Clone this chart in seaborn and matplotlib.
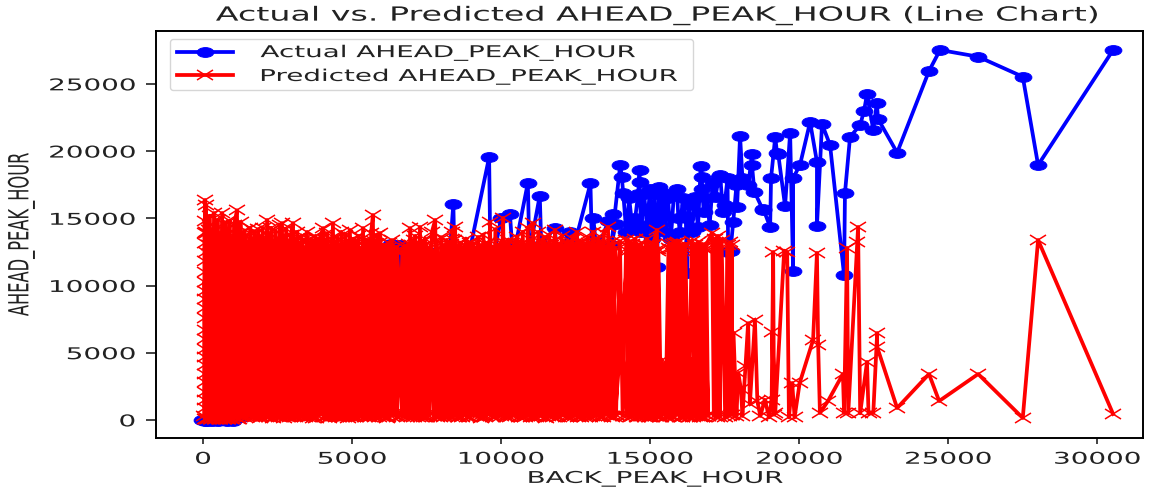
import matplotlib
matplotlib.use('Agg')
import matplotlib.pyplot as plt
import seaborn as sns
from matplotlib.markers import MarkerStyle
from matplotlib.patheffects import AbstractPathEffect
from matplotlib.transforms import Affine2D

x_ticks = [0, 5000, 10000, 15000, 20000, 25000, 30000]
y_ticks = [0, 5000, 10000, 15000, 20000, 25000]

x_actual = [-20, 60, 150, 300, 500, 800, 1000, 1300, 1800, 2500, 3200, 4000, 4800, 5300, 5400, 5800,
            6300, 6350, 6600, 6620, 7000, 7550, 7600, 7800, 7850, 8200, 8400, 8450, 8800, 9600, 9650,
            10000, 10300, 10400, 10900, 10950, 11300, 11350, 11800, 11900, 12300, 12400, 13000, 13050,
            13100, 13200, 13600, 13750, 13850,
            13700, 14000, 14050, 14100, 14200, 14300, 14400, 14500, 14600, 14650, 14650, 14700, 14800,
            14900, 15000, 15050, 15150, 15230, 15300, 15350, 15450, 15500, 15600, 15700, 15800, 15900,
            15950, 16000, 16100, 16200, 16240, 16300, 16400, 16500, 16610, 16700, 16740, 16750, 16800,
            16900, 17000, 17100, 17200, 17300, 17350, 17450, 17500, 17600, 17620, 17700, 17790, 17900,
            17920, 18020, 18100, 18300, 18420, 18420, 18500, 18790, 18800, 19030, 19060, 19200,
            19260, 19300, 19530, 19700, 19800, 19800, 20030, 20370, 20600, 20600, 20770, 21040, 21510,
            21540, 21710, 22050, 22180, 22280, 22490, 22610, 22650, 23290, 24360, 24730, 26010, 27506,
            28020, 30537]
y_actual = [0, -60, -100, -60, -40, -80, -90, 200, 900, 1800, 3000, 2500, 5000, 4400, 9900, 6000,
            13100, 6600, 13000, 6000, 6000, 12500, 7700, 12000, 8800, 10000, 16100, 10500, 11000, 19550, 11000,
            15000, 15300, 12000, 17650, 12500, 16700, 13000, 14300, 12000, 14000, 12500, 17600, 13000,
            15000, 12500, 14800, 15300, 14600,
            13000, 19000, 18100, 16900, 14000, 16500, 14500, 15000, 16800, 18600, 17700, 14000, 16800,
            14500, 17200, 13500, 16800, 11390, 17300, 14500, 16900, 14000, 16500, 13500, 16800, 17200,
            15000, 14000, 16500, 15000, 10930, 16000, 14000, 16600, 14360, 18900, 18100, 17200, 15500,
            16500, 14500, 17600, 16600, 18100, 18230, 15500, 16000, 18000, 12500, 12600, 14730, 17500,
            15850, 21130, 18000, 17500, 19790, 18970, 17000, 15620, 15700, 14360, 18000, 21060,
            19870, 19800, 15920, 21350, 11090, 18000, 18970, 22170, 19200, 14430, 22020, 20460, 10790,
            16890, 21060, 21950, 23000, 24250, 21580, 23580, 22400, 19890, 25970, 27530, 27030, 25540,
            18970, 27530]

x_pred_mid = [110, 190, 260, 340, 410, 480, 560, 620, 690, 760,
              830, 920, 1000, 1080, 1160, 1230, 1310, 1380, 1460, 1540,
              1610, 1680, 1760, 1830, 1900, 1980, 2060, 2130, 2200, 2280,
              2350, 2420, 2490, 2560, 2630, 2700, 2770, 2850, 2930, 3000,
              3080, 3150, 3220, 3290, 3360, 3440, 3520, 3590, 3660, 3730,
              3800, 3880, 3980, 4060, 4130, 4200, 4300, 4390, 4460, 4530,
              4600, 4670, 4740, 4810, 4880, 4960, 5030, 5100, 5170, 5240,
              5300, 5410, 5470, 5540, 5600, 5680, 5750, 5820, 5900, 5970,
              6050, 6130, 6210, 6290, 6380, 6510, 6680, 6810, 6900, 7000,
              7080, 7160, 7240, 7320, 7410, 7490, 7590, 7720, 7840, 7940,
              8030, 8120, 8220, 8310, 8410, 8500, 8600, 8690, 8780, 8870,
              8960, 9050, 9170, 9280, 9370, 9460, 9570, 9680, 9770, 9860,
              9990, 10120, 10210, 10300, 10390, 10490, 10590, 10690, 10770, 10860,
              10990, 11120, 11210, 11300, 11390, 11480, 11570, 11670, 11760, 11880,
              12000, 12090, 12180, 12270, 12360, 12480, 12590, 12680, 12770, 12860,
              12950, 13040, 13130, 13220, 13310, 13410, 13520, 13630, 13720, 13830,
              14230, 14290, 14350, 14400, 14460, 14530, 14590, 14640, 14700, 14760,
              14820, 14880, 14940, 15010, 15070, 15130, 15190, 15260, 15320, 15390,
              15450, 15510, 15570, 15640, 15700, 15760, 15820, 15890, 15950, 16010,
              16070, 16140, 16200, 16270, 16330, 16390, 16450, 16520, 16580, 16640,
              16700, 16760, 16820, 16880, 16950]
y_pred_mid = [60, 13000, 40, 13200, 70, 12800, 50, 13400, 60, 13000,
              80, 13100, 60, 12900, 70, 13300, 300, 13000, 240, 13200,
              380, 12800, 200, 13300, 320, 13000, 260, 13100, 400, 12900,
              180, 13200, 300, 13000, 250, 13100, 420, 12700, 200, 13100,
              330, 12900, 260, 13000, 390, 12800, 220, 13100, 300, 12900,
              170, 13000, 410, 12800, 260, 13000, 320, 13100, 200, 12900,
              380, 13000, 240, 12800, 300, 13000, 190, 12900, 420, 12800,
              260, 9000, 330, 12900, 200, 13000, 370, 13100, 250, 12900,
              300, 12700, 190, 12600, 420, 12500, 260, 12800, 320, 13000,
              200, 13100, 380, 12900, 250, 13000, 300, 12500, 190, 12300,
              420, 13000, 260, 13100, 330, 13000, 200, 12800, 380, 12900,
              250, 13000, 300, 12900, 190, 13100, 420, 12800, 260, 13000,
              330, 13200, 200, 12900, 380, 13000, 250, 13100, 300, 13000,
              190, 13000, 420, 12900, 260, 13100, 330, 13000, 200, 13100,
              380, 12900, 250, 13100, 300, 13000, 190, 13200, 420, 13000,
              260, 12900, 330, 13100, 200, 13000, 380, 13100, 250, 12800,
              300, 12900, 190, 13100, 420, 12900, 260, 13000, 330, 12800,
              200, 13000, 380, 12900, 250, 13100, 300, 12700, 190, 4500,
              420, 4200, 260, 12800, 330, 13100, 200, 12900, 380, 12700,
              250, 13000, 300, 3800, 190, 4500, 420, 13000, 260, 12900,
              330, 13100, 200, 12700, 300]

x_pred_back = [16950, 16790, 16670, 16550, 16450, 16350, 16240, 16120, 16000, 15890,
               15780, 15670, 15570, 15470, 15370, 15280, 15160, 15050, 14950, 14850,
               14750, 14650, 14560, 14470, 14370, 14260, 13820, 13720, 13630, 13520,
               13410, 13310, 13220, 13130, 13040, 12950, 12860, 12770, 12680, 12590,
               12480, 12360, 12270, 12180, 12090, 12000, 11880, 11760, 11670, 11570,
               11480, 11390, 11300, 11210, 11120, 10990, 10860, 10770, 10690, 10590,
               10490, 10390, 10300, 10210, 10120, 9990, 9860, 9770, 9680, 9570,
               9460, 9370, 9280, 9170, 9050, 8960, 8870, 8780, 8690, 8600,
               8500, 8410, 8320, 8220, 8130, 8040, 7950, 7850, 7740, 7600,
               7490, 7410, 7320, 7240, 7160, 7080, 7000, 6900, 6810, 6690,
               6510, 6380, 6300, 6210, 6130, 6050, 5980, 5890, 5810, 5740,
               5670, 5610, 5550, 5480, 5410, 5330, 5250, 5180, 5110, 5040,
               4970, 4900, 4820, 4750, 4680, 4610, 4540, 4470, 4400, 4320,
               4210, 4140, 4070, 3960, 3870, 3810, 3740, 3670, 3600, 3530,
               3430, 3340, 3270, 3200, 3130, 3060, 2990, 2910, 2830, 2760,
               2690, 2610, 2540, 2470, 2400, 2330, 2260, 2190, 2120, 2040,
               1960, 1890, 1820, 1750, 1690, 1620, 1530, 1440, 1370, 1310,
               1240, 1170, 1090, 1010, 940, 870, 810, 740, 670, 610,
               540, 470, 400, 340, 270, 200, 140, 120, 100, 90]
y_pred_back = [300, 12800, 250, 12600, 200, 4200, 300, 12800, 220, 13200,
               250, 12700, 300, 4000, 200, 12600, 300, 13000, 250, 12500,
               300, 13000, 200, 12800, 300, 12600, 250, 13000, 300, 12900,
               200, 13100, 350, 12900, 280, 13200, 300, 12800, 250, 13300,
               300, 13000, 220, 13200, 350, 13100, 250, 13300, 300, 12900,
               200, 13200, 330, 13000, 250, 13400, 300, 12700, 250, 13000,
               350, 12900, 200, 13100, 300, 13200, 260, 12900, 330, 13200,
               220, 13000, 300, 12800, 350, 13200, 250, 13000, 200, 12900,
               300, 13400, 260, 13100, 330, 13000, 220, 13300, 300, 12800,
               250, 13300, 200, 13000, 330, 13400, 260, 13100, 300, 12500,
               250, 12700, 300, 12800, 200, 13000, 320, 13200, 260, 13300,
               300, 13300, 220, 13100, 350, 11000, 260, 13300, 300, 13200,
               250, 13300, 320, 13100, 220, 13000, 300, 13200, 260, 13500,
               300, 13400, 220, 13100, 300, 13500, 260, 13200, 330, 13100,
               220, 13400, 300, 13200, 260, 13500, 320, 13300, 250, 13600,
               300, 13400, 220, 13500, 330, 13300, 260, 13700, 300, 13400,
               220, 13600, 310, 13500, 260, 13400, 330, 13700, 250, 13600,
               300, 13800, 220, 13600, 70, 13900, 60, 13700, 50, 13900,
               60, 13800, 40, 14000, 70, 14100, 50, 13900, 60, 14000]

x_pred = [50, 55, 60, 65, 70, 75, 80, 85, 60, 65, 70, 75, 80, 55, 60, 65, 70, 75, 80, 70, 65, 60, 70, 67,
          100, 170, 230, 300, 370, 430, 500, 570, 640, 700,
          770, 840, 900, 970, 1040, 1140, 1200, 1270, 1340, 1400,
          1470, 1580, 1650, 1720, 1780, 1850, 1920, 2000, 2080, 2150,
          2220, 2290, 2360, 2430, 2500, 2570, 2650, 2720, 2790, 2860,
          2950, 3020, 3090, 3160, 3230, 3300, 3370, 3490, 3560, 3630,
          3700, 3770, 3840, 3900, 4030, 4100, 4170, 4240, 4360, 4430,
          4500, 4570, 4640, 4710, 4780, 4850, 4930, 5000, 5070, 5140,
          5210, 5280, 5370, 5440, 5510, 5580, 5640, 5700, 5770, 5840,
          5940, 6010, 6090, 6170, 6250, 6340, 6420, 6510, 6690, 6770,
          6860, 6950, 7040, 7120, 7200, 7280, 7370, 7450, 7520, 7680,
          7790, 7900, 7990, 8080, 8170, 8260, 8370, 8460, 8550, 8640,
          8730, 8820, 8910, 9000, 9100, 9230, 9320, 9410, 9500, 9630,
          9720, 9810, 9900, 10070, 10160, 10250, 10340, 10440, 10540, 10640,
          10730, 10820, 10900, 11070, 11160, 11250, 11340, 11430, 11520, 11620,
          11710, 11810, 11950, 12040, 12130, 12220, 12310, 12400, 12550, 12640,
          12730, 12820, 12910, 13000, 13090, 13180, 13270, 13360, 13450, 13590,
          13680, 13770, 13860, 13990, 14080, 14200, 14330, 14420, 14510, 14600, 14700, 14800,
          14900, 15000, 15100, 15230, 15320, 15420, 15520, 15620, 15720, 15840,
          15940, 16060, 16180, 16300, 16400, 16500, 16610, 16730, 16850, 17080,
          17140, 17190, 17230, 17280, 17340, 17400, 17520, 17600, 17640, 17680, 17720, 17740, 17760,
          17800, 17900, 17960, 18050, 18100,
          18200, 18290, 18350, 18520, 18600, 18700, 18850, 19000, 19080, 19130,
          19160, 19100, 19200, 19500, 19600, 19660, 19770, 19850, 20020, 20470,
          20600, 20640, 20700, 20970, 21470, 21510, 21610, 21650, 21950, 21980,
          22050, 22280, 22330, 22490, 22620, 22620, 23290, 24360, 24700, 26010,
          27506, 28020, 30537]
y_pred = [300, 14800, 900, 13900, 1500, 13200, 2100, 12500, 2800, 11800, 3400, 11000, 4100, 10300, 4700, 9600,
          5300, 9000, 6000, 8300, 6700, 7600, 16370, 50,
          16000, 60, 15200, 50, 15400, 40, 14900, 70, 15400, 50,
          14700, 60, 14800, 70, 14500, 15600, 50, 14700, 300, 14100,
          400, 14280, 220, 14050, 330, 14200, 150, 14300, 280, 14880,
          200, 14300, 350, 14100, 260, 14500, 14650, 180, 14200, 300,
          13800, 14650, 220, 14000, 420, 13600, 200, 13990, 310, 13500,
          160, 13700, 400, 13400, 14280, 250, 13900, 180, 14650, 330,
          13600, 220, 14000, 350, 13800, 180, 14140, 400, 13500, 250,
          13700, 300, 14280, 220, 13400, 350, 13900, 15250, 200, 13800,
          13910, 300, 13000, 180, 13200, 13390, 350, 12900, 400, 13000,
          250, 14280, 300, 13700, 200, 14360, 350, 13500, 250, 14000,
          14880, 350, 13600, 200, 13400, 300, 14000, 14360, 250, 13200,
          400, 13500, 200, 13000, 350, 13620, 180, 13800, 300, 14730,
          250, 14200, 400, 15030, 200, 13400, 350, 13000, 13620, 300,
          14000, 200, 14300, 14650, 250, 14000, 400, 13600, 180, 13800,
          300, 14140, 250, 13700, 350, 13200, 200, 13500, 13990, 300,
          13300, 250, 13600, 200, 14000, 350, 13500, 280, 13900, 14360,
          300, 13300, 400, 13300, 300, 13390, 13300, 300, 13480, 200, 13000, 350,
          13480, 250, 13000, 14140, 300, 4000, 200, 13100, 300, 13200,
          13240, 200, 13100, 250, 13300, 300, 13240, 200, 12900, 13910,
          300, 13500, 200, 13700, 250, 13400, 250, 13000, 300, 13240, 400, 13000, 400,
          6500, 300, 3500, 2300, 300,
          4000, 7200, 1200, 7440, 1400, 300, 1500, 200, 1500, 12500,
          400, 6550, 500, 12600, 12500, 200, 2750, 200, 2750, 5950,
          12430, 5600, 520, 1410, 3420, 520, 12800, 500, 13240, 14360,
          500, 4320, 500, 520, 6470, 5430, 890, 3420, 1410, 3420,
          150, 13390, 446]

# the reference is an old plot squashed into a wide box, so its glyphs are wider than tall
SX, SY = 2.0, 1.17


class Stretch(AbstractPathEffect):
    def __init__(self, pivot=0.5):
        self.pivot = pivot

    def draw_path(self, renderer, gc, tpath, affine, rgbFace=None):
        box = tpath.get_extents(affine)
        px = box.x0 + self.pivot * box.width
        py = box.y0 + 0.5 * box.height
        wide = affine + Affine2D().translate(-px, -py).scale(SX, SY).translate(px, py)
        renderer.draw_path(gc, tpath, wide, rgbFace)


oval = MarkerStyle('o', transform=Affine2D().scale(SX, SY))
cross = MarkerStyle('x', transform=Affine2D().scale(SX, SY))

fig, ax = plt.subplots(figsize=(11.55, 4.9), dpi=100)
fig.subplots_adjust(left=156 / 1155, right=1143 / 1155, top=1 - 31 / 490, bottom=1 - 438 / 490)

sns.lineplot(x=x_actual, y=y_actual, sort=False, estimator=None, ax=ax, color='blue', linewidth=2.7,
             marker=oval, markersize=6, markeredgecolor='blue', label='Actual AHEAD_PEAK_HOUR')
sns.lineplot(x=x_pred_mid + x_pred_back + x_pred, y=y_pred_mid + y_pred_back + y_pred, sort=False,
             estimator=None, ax=ax, color='red', linewidth=2.7, marker=cross, markersize=6,
             markeredgecolor='red', markeredgewidth=1.1, label='Predicted AHEAD_PEAK_HOUR')

ax.set_xlim(-1577, 31540)
ax.set_ylim(-1340, 28943)
ax.set_xticks(x_ticks)
ax.set_yticks(y_ticks)
ax.tick_params(axis='x', labelsize=10, length=4, width=1.2, pad=6, colors='#222222')
ax.tick_params(axis='y', labelsize=10, length=7, width=1.2, pad=8, colors='#222222')
for side in ax.spines.values():
    side.set_linewidth(1.4)

title = ax.set_title('Actual vs. Predicted AHEAD_PEAK_HOUR (Line Chart)', fontsize=12, color='#222222',
                     pad=8, x=0.507)
xlab = ax.set_xlabel('BACK_PEAK_HOUR', fontsize=10, color='#222222', labelpad=4, x=0.506)
ylab = ax.set_ylabel('AHEAD_PEAK_HOUR', fontsize=10, color='#222222')
ax.yaxis.set_label_coords((28 - 156) / 987, 0.5)

for txt in [title, xlab, ylab] + ax.get_xticklabels():
    txt.set_path_effects([Stretch()])
for txt in ax.get_yticklabels():
    txt.set_path_effects([Stretch(1.0)])

box = ((170 - 156) / 987, (438 - 90) / 407, 523 / 987, 51 / 407)
leg = ax.legend(loc='lower left', bbox_to_anchor=box, mode='expand', borderaxespad=0, fontsize=10,
                handlelength=4.1, handletextpad=1.95, borderpad=0.47, labelspacing=0.7)
for txt in leg.get_texts():
    txt.set_color('#222222')
    txt.set_path_effects([Stretch(0.0)])

plt.savefig('out.png', dpi=100)
